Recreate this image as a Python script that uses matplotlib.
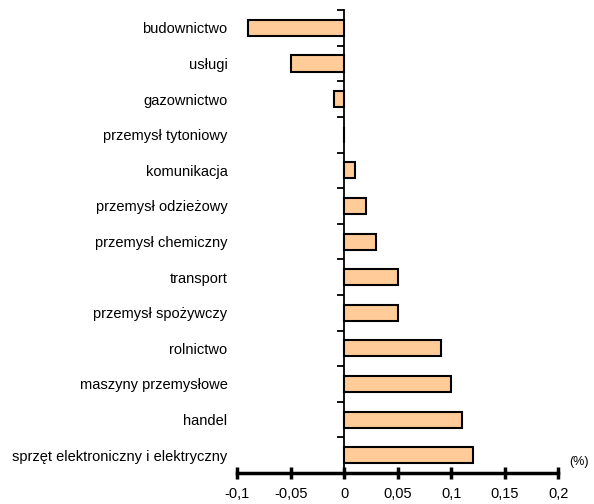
import numpy as np
import matplotlib.pyplot as plt
from matplotlib.markers import TICKLEFT

plt.rcParams['font.family'] = ['Liberation Sans', 'DejaVu Sans']

sectors = ['budownictwo', 'usługi', 'gazownictwo', 'przemysł tytoniowy',
           'komunikacja', 'przemysł odzieżowy', 'przemysł chemiczny',
           'transport', 'przemysł spożywczy', 'rolnictwo',
           'maszyny przemysłowe', 'handel',
           'sprzęt elektroniczny i elektryczny']
change = [-0.09, -0.05, -0.01, 0.0, 0.01, 0.02, 0.03,
          0.05, 0.05, 0.09, 0.10, 0.11, 0.12]
xticks = [-0.1, -0.05, 0, 0.05, 0.1, 0.15, 0.2]
xticklabels = ['-0,1', '-0,05', '0', '0,05', '0,1', '0,15', '0,2']

fig = plt.figure(figsize=(5.94, 5.04), dpi=100)
ax = fig.add_axes([0.3995, 0.0615, 0.5405, 0.9185])

pos = np.arange(len(sectors))
ax.barh(pos, change, height=0.45, color='#FFCC99', edgecolor='black',
        linewidth=1.5, zorder=3)

# vertical axis through zero with small ticks between categories
bounds = np.arange(len(sectors) + 1) - 0.5
ax.plot(np.zeros(len(bounds)), bounds, color='black', lw=1.3,
        marker=TICKLEFT, markersize=5, markeredgewidth=1.3, zorder=4,
        clip_on=False)

ax.set_xlim(-0.1, 0.2)
ax.set_ylim(len(sectors) - 0.5, -0.5)
ax.set_yticks(pos)
ax.set_yticklabels(sectors, fontsize=10.5)
ax.tick_params(axis='y', length=0, pad=7)
ax.set_xticks(xticks)
ax.set_xticklabels(xticklabels, fontsize=10.5)
ax.tick_params(axis='x', direction='inout', length=8, width=2.5, pad=6)

for s in ['top', 'right', 'left']:
    ax.spines[s].set_visible(False)
ax.spines['bottom'].set_linewidth(2.5)

ax.text(1.035, 0.01, '(%)', transform=ax.transAxes, fontsize=9,
        ha='left', va='bottom')

fig.savefig('out.png', dpi=100)
